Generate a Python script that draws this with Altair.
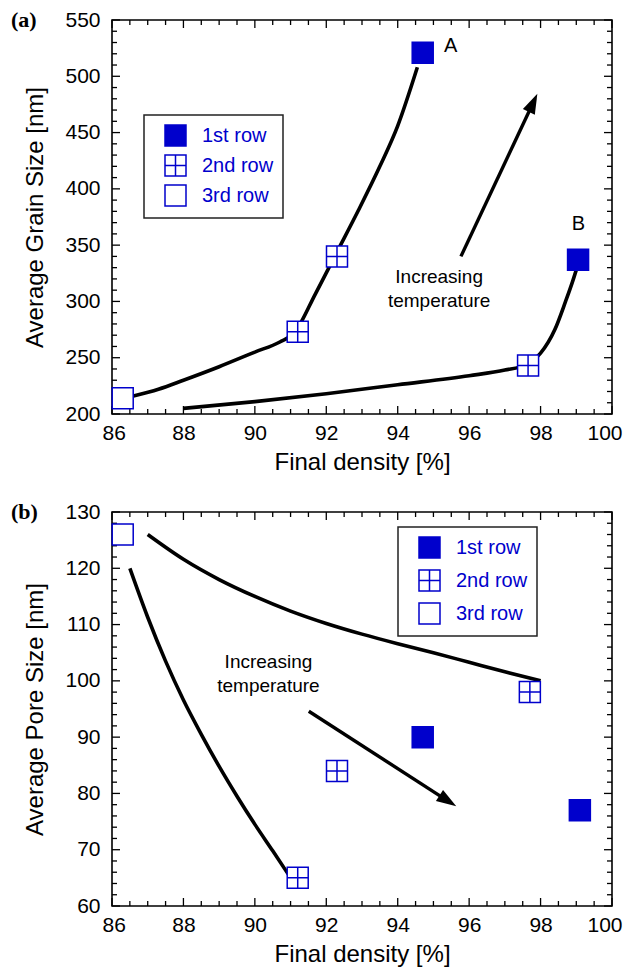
import math
import altair as alt
import pandas as pd

BLUE = "#0000cc"
FONT = "Liberation Sans"
W = 500
H = 394

ROWS = ["1st row", "2nd row", "3rd row"]
GRID_SQ = "M-1,-1L1,-1L1,1L-1,1Z M0,-1L0,1 M-1,0L1,0"
ARROW_HEAD = "M0,0L0.33,1L-0.33,1Z"

X_DOM = [86, 100]
X_MAJOR = [86, 88, 90, 92, 94, 96, 98, 100]
X_MINOR = [86.5, 87, 87.5, 88.5, 89, 89.5, 90.5, 91, 91.5, 92.5, 93, 93.5,
           94.5, 95, 95.5, 96.5, 97, 97.5, 98.5, 99, 99.5]

# ---------------- panel (a) ----------------
A_Y_DOM = [200, 550]
A_Y_MAJOR = [200, 250, 300, 350, 400, 450, 500, 550]
A_Y_MINOR = [v for v in range(210, 550, 10) if v % 50 != 0]
a_pts_x = [94.7, 99.05, 91.2, 92.3, 97.65, 86.3]
a_pts_y = [521, 337, 273, 340, 243, 214]
a_pts_row = ["1st row", "1st row", "2nd row", "2nd row", "2nd row", "3rd row"]
a_c1_x = [86.6, 87.3, 88.0, 89.0, 90.0, 90.7, 91.1, 91.7, 92.3, 92.9, 93.5, 94.0, 94.55]
a_c1_y = [216, 222, 230, 242, 255, 264, 272, 307, 344, 381, 420, 456, 508]
a_c2_x = [88.0, 90.0, 92.0, 94.0, 96.0, 97.0, 97.6, 98.0, 98.4, 98.7, 98.9, 99.0]
a_c2_y = [205, 211, 218, 226, 234, 239, 244, 254, 275, 300, 318, 328]
a_arrow_tail = (95.77, 340)
a_arrow_tip = (97.91, 484.5)
a_note_x = [95.16, 95.16]
a_note_y = [322, 300]
a_note_t = ["Increasing", "temperature"]
a_let_x = [95.48, 99.06]
a_let_y = [527, 369]
a_let_t = ["A", "B"]

# ---------------- panel (b) ----------------
B_Y_DOM = [60, 130]
B_Y_MAJOR = [60, 70, 80, 90, 100, 110, 120, 130]
B_Y_MINOR = [v for v in range(62, 130, 2) if v % 10 != 0]
b_pts_x = [94.7, 99.1, 91.2, 92.3, 97.7, 86.3]
b_pts_y = [90, 77, 65, 84, 98, 126]
b_pts_row = ["1st row", "1st row", "2nd row", "2nd row", "2nd row", "3rd row"]
b_c1_x = [87.0, 88.0, 89.0, 90.0, 91.0, 92.0, 93.0, 94.0, 95.0, 96.0, 97.0, 98.0]
b_c1_y = [126, 121.6, 118, 115, 112.4, 110.2, 108.3, 106.6, 105, 103.3, 101.6, 100]
b_c2_x = [86.5, 87.0, 87.5, 88.0, 88.5, 89.0, 89.5, 90.0, 90.5, 90.95]
b_c2_y = [120, 111.3, 103.5, 96.6, 90.5, 84.8, 79.5, 74.5, 69.8, 65.5]
b_arrow_tail = (91.51, 94.6)
b_arrow_tip = (95.64, 77.7)
b_note_x = [90.38, 90.38]
b_note_y = [103.4, 99]
b_note_t = ["Increasing", "temperature"]


def arrow_geom(tail, tip, ydom, back=13):
    def px(x):
        return (x - X_DOM[0]) / (X_DOM[1] - X_DOM[0]) * W

    def py(y):
        return (ydom[1] - y) / (ydom[1] - ydom[0]) * H

    dx = px(tip[0]) - px(tail[0])
    dy = py(tip[1]) - py(tail[1])
    L = math.hypot(dx, dy)
    ex = px(tip[0]) - dx / L * back
    ey = py(tip[1]) - dy / L * back
    end_x = X_DOM[0] + ex / W * (X_DOM[1] - X_DOM[0])
    end_y = ydom[1] - ey / H * (ydom[1] - ydom[0])
    ang = math.degrees(math.atan2(dx, -dy)) % 360
    return (end_x, end_y), ang


def panel(pts_x, pts_y, pts_row, curves, tail, tip, note, letters, ydom,
          ymaj, ymin, ytitle, tag, leg_x, leg_y, row_pad):
    xsc = alt.Scale(domain=X_DOM, nice=False, zero=False)
    ysc = alt.Scale(domain=ydom, nice=False, zero=False)
    ax = alt.Axis(values=X_MAJOR, title="Final density [%]", format="d",
                  labelFont=FONT, labelFontSize=21, labelPadding=8, labelColor="black",
                  titleFont=FONT, titleFontSize=24, titleFontWeight="normal",
                  titleColor="black", titlePadding=7, ticks=False, tickSize=0,
                  domain=False, grid=False, labelFlush=True, labelFlushOffset=10,
                  labelOverlap=False)
    ay = alt.Axis(values=ymaj, title=ytitle, format="d",
                  labelFont=FONT, labelFontSize=21, labelPadding=12, labelColor="black",
                  titleFont=FONT, titleFontSize=24, titleFontWeight="normal",
                  titleColor="black", titlePadding=17, ticks=False, tickSize=0,
                  domain=False, grid=False, labelFlush=False, labelOverlap=False)

    def X():
        return alt.X("x:Q", scale=xsc, axis=ax)

    def Y():
        return alt.Y("y:Q", scale=ysc, axis=ay)

    layers = []
    # inward ticks on all four sides
    for vals, ln in ((X_MAJOR, 8), (X_MINOR, 5)):
        df = pd.DataFrame({"x": vals})
        layers.append(alt.Chart(df).mark_rule(color="black", strokeWidth=1.3).encode(
            x=X(), y=alt.value(H), y2=alt.value(H - ln)))
        layers.append(alt.Chart(df).mark_rule(color="black", strokeWidth=1.3).encode(
            x=X(), y=alt.value(0), y2=alt.value(ln)))
    for vals, ln in ((ymaj, 8), (ymin, 5)):
        df = pd.DataFrame({"y": vals})
        layers.append(alt.Chart(df).mark_rule(color="black", strokeWidth=1.3).encode(
            y=Y(), x=alt.value(0), x2=alt.value(ln)))
        layers.append(alt.Chart(df).mark_rule(color="black", strokeWidth=1.3).encode(
            y=Y(), x=alt.value(W), x2=alt.value(W - ln)))

    # curves
    cx, cy, cc = [], [], []
    for i, (xs, ys) in enumerate(curves):
        cx += xs
        cy += ys
        cc += [f"c{i}"] * len(xs)
    cdf = pd.DataFrame({"x": cx, "y": cy, "c": cc})
    layers.append(alt.Chart(cdf).mark_line(color="black", strokeWidth=3.6,
                                           interpolate="monotone").encode(
        x=X(), y=Y(), detail="c:N"))

    # arrow
    end, ang = arrow_geom(tail, tip, ydom)
    sdf = pd.DataFrame({"x": [tail[0], end[0]], "y": [tail[1], end[1]]})
    layers.append(alt.Chart(sdf).mark_line(color="black", strokeWidth=3.4).encode(
        x=X(), y=Y()))
    hdf = pd.DataFrame({"x": [tip[0]], "y": [tip[1]]})
    layers.append(alt.Chart(hdf).mark_point(shape=ARROW_HEAD, size=1600, filled=True,
                                            color="black", opacity=1, angle=ang,
                                            strokeWidth=0).encode(x=X(), y=Y()))

    # annotation texts
    ndf = pd.DataFrame({"x": note[0], "y": note[1], "t": note[2]})
    layers.append(alt.Chart(ndf).mark_text(font=FONT, fontSize=19, color="black",
                                           align="center", baseline="middle").encode(
        x=X(), y=Y(), text="t:N"))
    if letters is not None:
        ldf = pd.DataFrame({"x": letters[0], "y": letters[1], "t": letters[2]})
        layers.append(alt.Chart(ldf).mark_text(font=FONT, fontSize=20, color="black",
                                               align="center", baseline="middle").encode(
            x=X(), y=Y(), text="t:N"))

    # markers with legend
    leg = alt.Legend(title=None, orient="none", legendX=leg_x, legendY=leg_y,
                     padding=9, symbolOffset=11, labelOffset=15, rowPadding=row_pad,
                     labelFont=FONT, labelFontSize=20, labelColor=BLUE,
                     symbolSize=441, symbolStrokeWidth=1.5, symbolStrokeColor=BLUE,
                     symbolOpacity=1, strokeColor="#222222", fillColor="white")
    pdf = pd.DataFrame({"x": pts_x, "y": pts_y, "row": pts_row})
    layers.append(alt.Chart(pdf).mark_point(filled=True, size=441,
                                            strokeWidth=1.5, opacity=1).encode(
        x=X(), y=Y(),
        shape=alt.Shape("row:N", scale=alt.Scale(domain=ROWS,
                                                 range=["square", GRID_SQ, "square"]),
                        legend=leg),
        fill=alt.Fill("row:N", scale=alt.Scale(domain=ROWS,
                                               range=[BLUE, "white", "white"]),
                      legend=leg),
        stroke=alt.Stroke("row:N", scale=alt.Scale(domain=ROWS,
                                                   range=[BLUE, BLUE, BLUE]),
                          legend=leg)))

    # panel tag
    tdf = pd.DataFrame({"t": [tag]})
    layers.append(alt.Chart(tdf).mark_text(font="Liberation Serif", fontWeight="bold",
                                           fontSize=22, color="black", align="left",
                                           baseline="middle").encode(
        x=alt.value(-101), y=alt.value(0), text="t:N"))

    return alt.layer(*layers).properties(width=W, height=H)


pa = panel(a_pts_x, a_pts_y, a_pts_row,
           [(a_c1_x, a_c1_y), (a_c2_x, a_c2_y)],
           a_arrow_tail, a_arrow_tip,
           (a_note_x, a_note_y, a_note_t), (a_let_x, a_let_y, a_let_t),
           A_Y_DOM, A_Y_MAJOR, A_Y_MINOR, "Average Grain Size [nm]", "(a)",
           32, 95, 3)
pb = panel(b_pts_x, b_pts_y, b_pts_row,
           [(b_c1_x, b_c1_y), (b_c2_x, b_c2_y)],
           b_arrow_tail, b_arrow_tip,
           (b_note_x, b_note_y, b_note_t), None,
           B_Y_DOM, B_Y_MAJOR, B_Y_MINOR, "Average Pore Size [nm]", "(b)",
           286, 15, 6)

chart = alt.vconcat(pa, pb, spacing=25).resolve_scale(
    shape="independent", fill="independent", stroke="independent"
).resolve_legend(
    shape="independent", fill="independent", stroke="independent"
).properties(
    padding={"left": 2, "top": 0, "right": 0, "bottom": 0}
).configure_view(stroke="black", strokeWidth=1.6).configure_legend(strokeWidth=1.5)

chart.save("out.html", embed_options={"renderer": "svg", "actions": False})
